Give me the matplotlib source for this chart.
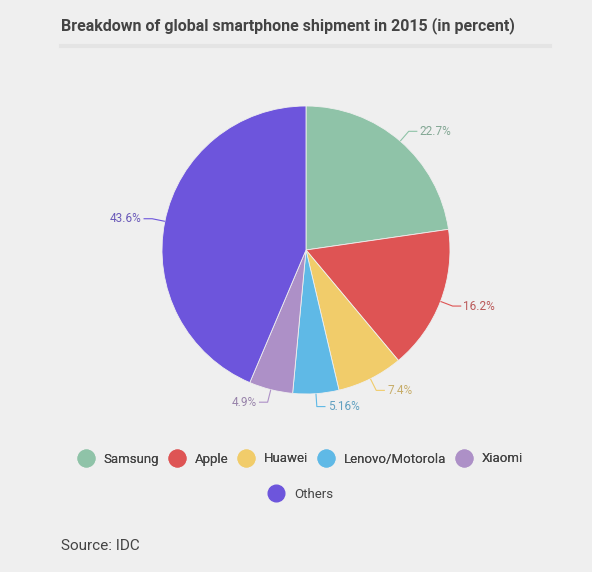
import numpy as np
import matplotlib.pyplot as plt
from matplotlib.lines import Line2D
from matplotlib import colors as mcolors

plt.rcParams["font.family"] = ["Roboto", "DejaVu Sans"]

brands = ["Samsung", "Apple", "Huawei", "Lenovo/Motorola", "Xiaomi", "Others"]
shares = [22.7, 16.2, 7.4, 5.16, 4.9, 43.6]
share_labels = ["22.7%", "16.2%", "7.4%", "5.16%", "4.9%", "43.6%"]
slice_colors = ["#8fc3a8", "#de5454", "#f1cc6a", "#5fb9e6", "#ad90c7", "#6d55dc"]

BG = "#efefef"
W, H = 592, 572


def darker(c, amt=0.3):
    r, g, b = mcolors.to_rgb(c)
    gr = 0.4
    return (r * (1 - amt) + gr * amt, g * (1 - amt) + gr * amt, b * (1 - amt) + gr * amt)


fig = plt.figure(figsize=(W / 100, H / 100), dpi=100, facecolor=BG)

# pie axes: center (306, 250) px, radius 144 px
R = 144
span = 1.6
cx, cy = 306, 250
ax = fig.add_axes([(cx - span * R) / W, (H - cy - span * R) / H,
                   2 * span * R / W, 2 * span * R / H])
ax.set_facecolor(BG)

wedges, _ = ax.pie(shares, colors=slice_colors, startangle=90, counterclock=False,
                   radius=1, wedgeprops=dict(edgecolor=BG, linewidth=0.6))
ax.set_xlim(-span, span)
ax.set_ylim(-span, span)
ax.axis("off")

for w, lab, col in zip(wedges, share_labels, slice_colors):
    ang = np.deg2rad((w.theta1 + w.theta2) / 2)
    x0, y0 = np.cos(ang), np.sin(ang)
    x1, y1 = 1.09 * x0, 1.09 * y0
    side = 1 if x0 >= 0 else -1
    x2 = x1 + side * 0.06
    ax.plot([x0, x1, x2], [y0, y1, y1], color=col, lw=0.8, solid_capstyle="butt")
    ax.text(x2 + side * 0.015, y1, lab, ha="left" if side > 0 else "right",
            va="center", fontsize=8.5, color=darker(col))

# title and separator
fig.text(61 / W, 1 - 26 / H, "Breakdown of global smartphone shipment in 2015 (in percent)",
         fontsize=11.5, fontweight="bold", color="#444444", va="center", ha="left")
fig.add_artist(Line2D([61 / W, 550 / W], [1 - 46 / H, 1 - 46 / H],
                      color="#e4e4e4", lw=3, transform=fig.transFigure))

# legend in two rows
handles = [Line2D([], [], marker="o", linestyle="", markersize=12,
                  markerfacecolor=c, markeredgecolor=c) for c in slice_colors]
leg_kw = dict(frameon=False, fontsize=9.5, handletextpad=0.8, columnspacing=0.8,
              handlelength=1.1, labelcolor="#444444", loc="center")
leg1 = fig.legend(handles[:5], brands[:5], ncol=5,
                  bbox_to_anchor=(301 / W, 1 - 459 / H), **leg_kw)
fig.add_artist(leg1)
fig.legend(handles[5:], brands[5:], ncol=1,
           bbox_to_anchor=(301 / W, 1 - 494 / H), **leg_kw)

fig.text(61 / W, 1 - 546 / H, "Source: IDC", fontsize=11, color="#444444",
         va="center", ha="left")

fig.savefig("out.png", dpi=100, facecolor=BG)
